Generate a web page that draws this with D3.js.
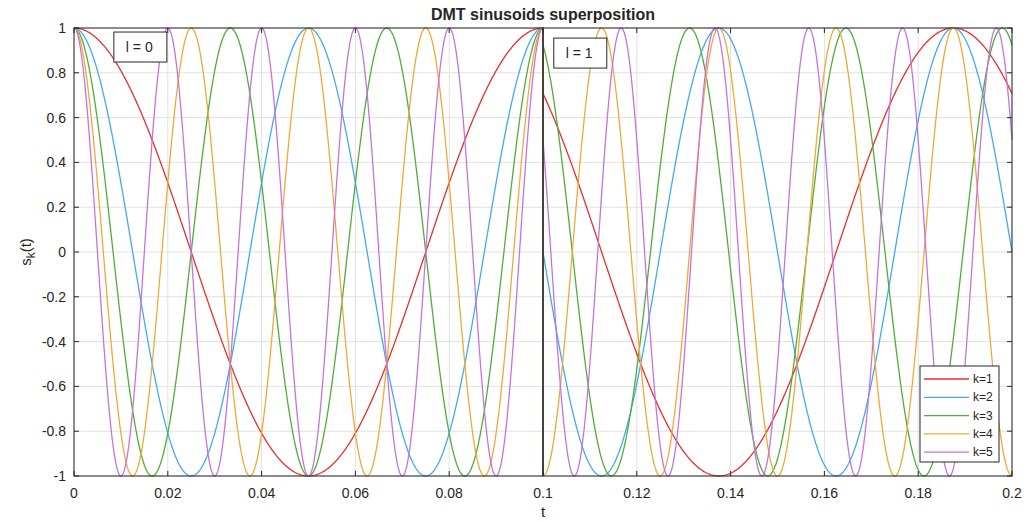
<!DOCTYPE html>
<html>
<head>
<meta charset="utf-8">
<script src="https://cdn.jsdelivr.net/npm/d3@7"></script>
<style>
  body { margin: 0; background: #fff; }
  text { font-family: "Liberation Sans", Arial, sans-serif; fill: #262626; }
</style>
</head>
<body>
<svg id="chart" width="1028" height="522"></svg>
<script>
// DMT sinusoids, two symbols (l = 0, l = 1), carriers k = 1..5
var symbolIndex = [0, 1];
var symbolDuration = 0.1;     // s
var baseFreq = 10;            // Hz, carrier k runs at k * baseFreq
var carriers = [1, 2, 3, 4, 5];
var carrierLabels = ["k=1", "k=2", "k=3", "k=4", "k=5"];
var carrierColors = ["#e6302f", "#42aaee", "#4fae3a", "#f0a938", "#c873dd"];
// phase of each carrier in each symbol, degrees
var phaseL0 = [0, 0, 0, 0, 0];
var phaseL1 = [45, 90, 22.5, 180, 60];
var phases = [phaseL0, phaseL1];

var xTicks = [0, 0.02, 0.04, 0.06, 0.08, 0.1, 0.12, 0.14, 0.16, 0.18, 0.2];
var xTickLabels = ["0", "0.02", "0.04", "0.06", "0.08", "0.1", "0.12", "0.14", "0.16", "0.18", "0.2"];
var yTicks = [-1, -0.8, -0.6, -0.4, -0.2, 0, 0.2, 0.4, 0.6, 0.8, 1];
var yTickLabels = ["-1", "-0.8", "-0.6", "-0.4", "-0.2", "0", "0.2", "0.4", "0.6", "0.8", "1"];

var boxLabels = ["l = 0", "l = 1"];
var boxAnchorT = [0.0085, 0.1023];
var boxAnchorY = [0.982, 0.955];

var svg = d3.select("#chart");
var margin = { left: 74, right: 16, top: 28, bottom: 46 };
var W = 1028, H = 522;

var x = d3.scaleLinear().domain([0, 0.2]).range([margin.left, W - margin.right]);
var y = d3.scaleLinear().domain([-1, 1]).range([H - margin.bottom, margin.top]);

// grid
svg.append("g").selectAll("line").data(xTicks).enter().append("line")
  .attr("x1", function (d) { return x(d); }).attr("x2", function (d) { return x(d); })
  .attr("y1", y(-1)).attr("y2", y(1))
  .attr("stroke", "#e1e1e1").attr("stroke-width", 1);
svg.append("g").selectAll("line").data(yTicks).enter().append("line")
  .attr("y1", function (d) { return y(d); }).attr("y2", function (d) { return y(d); })
  .attr("x1", x(0)).attr("x2", x(0.2))
  .attr("stroke", "#e1e1e1").attr("stroke-width", 1);

// curves: one path per carrier, running across both symbols
var step = symbolDuration / 600;
var line = d3.line()
  .x(function (p) { return x(p[0]); })
  .y(function (p) { return y(p[1]); });

var plot = svg.append("g");
carriers.forEach(function (k, i) {
  var pts = [];
  symbolIndex.forEach(function (l) {
    var t0 = l * symbolDuration;
    var phi = phases[l][i] * Math.PI / 180;
    d3.range(0, symbolDuration + step / 2, step).forEach(function (tau) {
      pts.push([t0 + tau, Math.cos(2 * Math.PI * k * baseFreq * tau + phi)]);
    });
  });
  plot.append("path")
    .attr("d", line(pts))
    .attr("fill", "none")
    .attr("stroke", carrierColors[i])
    .attr("stroke-width", 1.3);
});

// symbol boundary
svg.append("line")
  .attr("x1", x(symbolDuration)).attr("x2", x(symbolDuration))
  .attr("y1", y(-1)).attr("y2", y(1))
  .attr("stroke", "#4a4037").attr("stroke-width", 2);

// axes box and ticks
var axisColor = "#262626";
svg.append("rect")
  .attr("x", x(0)).attr("y", y(1))
  .attr("width", x(0.2) - x(0)).attr("height", y(-1) - y(1))
  .attr("fill", "none").attr("stroke", axisColor).attr("stroke-width", 1);

var tickLen = 5;
xTicks.forEach(function (d) {
  svg.append("line").attr("x1", x(d)).attr("x2", x(d))
    .attr("y1", y(-1)).attr("y2", y(-1) - tickLen).attr("stroke", axisColor);
  svg.append("line").attr("x1", x(d)).attr("x2", x(d))
    .attr("y1", y(1)).attr("y2", y(1) + tickLen).attr("stroke", axisColor);
});
yTicks.forEach(function (d) {
  svg.append("line").attr("x1", x(0)).attr("x2", x(0) + tickLen)
    .attr("y1", y(d)).attr("y2", y(d)).attr("stroke", axisColor);
  svg.append("line").attr("x1", x(0.2)).attr("x2", x(0.2) - tickLen)
    .attr("y1", y(d)).attr("y2", y(d)).attr("stroke", axisColor);
});

svg.append("g").selectAll("text").data(xTicks).enter().append("text")
  .attr("x", function (d) { return x(d); })
  .attr("y", y(-1) + 22)
  .attr("text-anchor", "middle")
  .style("font-size", "14px")
  .text(function (d, i) { return xTickLabels[i]; });

svg.append("g").selectAll("text").data(yTicks).enter().append("text")
  .attr("x", x(0) - 8)
  .attr("y", function (d) { return y(d) + 5; })
  .attr("text-anchor", "end")
  .style("font-size", "14px")
  .text(function (d, i) { return yTickLabels[i]; });

// title and axis labels
svg.append("text")
  .attr("x", (x(0) + x(0.2)) / 2).attr("y", 20)
  .attr("text-anchor", "middle")
  .style("font-size", "16px").style("font-weight", "bold")
  .text("DMT sinusoids superposition");

svg.append("text")
  .attr("x", (x(0) + x(0.2)) / 2).attr("y", 517)
  .attr("text-anchor", "middle")
  .style("font-size", "15px")
  .text("t");

var ylab = svg.append("text")
  .attr("transform", "translate(31," + y(0) + ") rotate(-90)")
  .attr("text-anchor", "middle")
  .style("font-size", "15px");
ylab.append("tspan").text("s");
ylab.append("tspan").attr("dy", 4).style("font-size", "12px").text("k");
ylab.append("tspan").attr("dy", -4).text("(t)");

// symbol annotation boxes
boxLabels.forEach(function (lab, i) {
  var bx = x(boxAnchorT[i]), by = y(boxAnchorY[i]);
  var g = svg.append("g").attr("transform", "translate(" + bx + "," + by + ")");
  g.append("rect").attr("width", 53).attr("height", 30)
    .attr("fill", "#fff").attr("stroke", axisColor).attr("stroke-width", 1);
  g.append("text").attr("x", 12).attr("y", 20)
    .style("font-size", "14px").text(lab);
});

// legend
var lg = svg.append("g").attr("transform", "translate(920,366)");
lg.append("rect").attr("width", 79).attr("height", 96)
  .attr("fill", "#fff").attr("stroke", axisColor).attr("stroke-width", 1);
carrierLabels.forEach(function (lab, i) {
  var ly = 13 + i * 18.3;
  lg.append("line").attr("x1", 4).attr("x2", 49)
    .attr("y1", ly).attr("y2", ly)
    .attr("stroke", carrierColors[i]).attr("stroke-width", 1.3);
  lg.append("text").attr("x", 53).attr("y", ly + 4)
    .style("font-size", "12px").text(lab);
});
</script>
</body>
</html>
